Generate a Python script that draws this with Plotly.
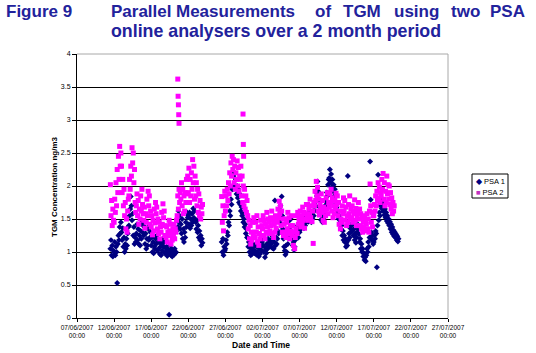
import pandas as pd
import plotly.graph_objects as go

# ---------------- data (2-hourly readings, estimated from the figure) ----------------
seg1_start = "2007-06-11 12:00"
psa1_seg1 = [
    1.05, 1.18, 0.95, 1.10, 0.93, 1.02,
    1.00, 1.15, 0.95, 1.08, 1.00, 0.53, 1.12, 1.25, 1.18, 1.38, 1.28, 1.45,
    1.30, 1.18, 1.36, 1.08, 1.22, 1.00, 1.12, 1.05, 1.20, 1.10, 1.28, 1.38,
    1.40, 1.55, 1.65, 1.84, 1.70, 1.48, 1.58, 1.25, 1.38, 1.12, 1.22, 1.15,
    1.28, 1.42, 1.18, 1.35, 1.12, 1.25, 1.10, 1.32, 1.20, 1.45, 1.30, 1.40,
    1.25, 1.38, 1.12, 1.28, 1.05, 1.20, 1.10, 1.35, 1.18, 1.40, 1.22, 1.30,
    1.10, 1.22, 1.00, 1.15, 0.98, 1.08, 1.05, 1.20, 1.12, 1.25, 1.02, 1.15,
    1.05, 1.15, 0.97, 1.08, 0.95, 1.12, 1.02, 1.20, 1.08, 1.15, 0.98, 1.06,
    1.00, 1.08, 0.94, 1.04, 0.97, 0.05, 1.02, 1.10, 0.95, 1.05, 0.93, 1.00,
    1.02, 0.96, 1.05, 0.98, 1.00, 1.32, 1.48, 1.38, 1.62, 1.45, 1.55, 1.35,
    1.42, 1.28, 1.50, 1.20, 1.35, 1.15, 1.30, 1.22, 1.45, 1.38, 1.60, 1.52,
    1.55, 1.42, 1.60, 1.36, 1.50, 1.40, 1.58, 1.45, 1.66, 1.52, 1.62, 1.48,
    1.45, 1.35, 1.48, 1.30, 1.40, 1.22, 1.32, 1.18, 1.25, 1.10, 1.20, 1.14,
]
psa2_seg1 = [
    2.02, 1.55, 1.78, 1.40, 1.65, 1.48,
    1.45, 1.80, 1.60, 2.05, 1.70, 2.25, 1.90, 2.45, 2.10, 2.60, 2.30, 2.50,
    2.30, 1.90, 2.10, 1.70, 1.95, 1.55, 1.75, 1.35, 1.50, 1.30, 1.62, 1.80,
    1.85, 2.10, 1.95, 2.30, 2.15, 2.58, 2.35, 2.50, 2.05, 2.25, 1.75, 1.60,
    1.70, 1.88, 1.55, 1.78, 1.42, 1.65, 1.50, 1.85, 1.62, 1.95, 1.72, 1.58,
    1.48, 1.68, 1.36, 1.58, 1.45, 1.80, 1.55, 1.92, 1.70, 1.85, 1.42, 1.62,
    1.38, 1.55, 1.26, 1.48, 1.32, 1.65, 1.44, 1.75, 1.58, 1.68, 1.35, 1.50,
    1.28, 1.45, 1.20, 1.38, 1.30, 1.60, 1.42, 1.73, 1.52, 1.62, 1.25, 1.40,
    1.22, 1.38, 1.15, 1.30, 1.25, 1.48, 1.32, 1.42, 1.12, 1.28, 1.18, 1.35,
    1.25, 1.42, 1.20, 1.35, 1.30, 1.48, 1.55, 1.85, 1.65, 1.95, 1.75, 1.90,
    1.80, 2.05, 1.70, 1.95, 1.58, 1.85, 1.62, 1.90, 1.75, 2.10, 1.88, 2.15,
    1.90, 2.27, 1.75, 2.10, 1.85, 2.20, 1.95, 2.40, 2.05, 2.30, 1.80, 2.15,
    1.85, 2.05, 1.70, 1.95, 1.60, 1.88, 1.55, 1.78, 1.50, 1.68, 1.58, 1.72,
]

seg2_start = "2007-06-26 12:00"
psa1_seg2 = [
    1.15, 1.00, 1.20, 0.95, 1.08, 1.02,
    1.05, 1.18, 1.12, 1.30, 1.25, 1.45, 1.40, 1.62, 1.55, 1.80, 1.72, 1.95,
    1.95, 2.15, 2.02, 2.20, 1.98, 2.10, 1.88, 2.00, 1.82, 1.95, 1.75, 1.88,
    1.72, 1.62, 1.68, 1.55, 1.58, 1.45, 1.50, 1.38, 1.42, 1.28, 1.35, 1.22,
    1.22, 1.08, 1.15, 1.00, 1.10, 0.95, 1.05, 0.97, 1.12, 1.02, 1.08, 0.98,
    1.02, 1.12, 0.96, 1.08, 1.00, 1.15, 0.93, 1.05, 0.97, 1.10, 1.03, 1.14,
    1.10, 1.18, 1.00, 1.08, 0.92, 1.02, 0.98, 1.12, 1.05, 1.20, 1.08, 1.15,
    1.08, 1.18, 1.12, 1.25, 1.06, 1.20, 1.05, 1.15, 1.78, 1.10, 1.22, 1.12,
    1.20, 1.32, 1.28, 1.50, 1.45, 1.70, 1.62, 1.84, 1.55, 1.35, 1.20, 1.08,
    1.02, 0.96, 1.10, 1.00, 1.22, 1.12, 1.35, 1.25, 1.48, 1.38, 1.52, 1.28,
    1.20, 1.10, 1.15, 1.03, 1.08, 1.18, 1.25, 1.35, 1.28, 1.40, 1.22, 1.32,
    1.30, 1.40, 1.35, 1.45, 1.38, 1.50, 1.42, 1.36, 1.48, 1.40, 1.55, 1.46,
    1.50, 1.58, 1.46, 1.55, 1.48, 1.60, 1.52, 1.45, 1.56, 1.50, 1.62, 1.55,
    1.62, 1.75, 1.70, 1.90, 1.85, 2.07, 1.92, 1.78, 1.68, 1.58, 1.62, 1.48,
    1.50, 1.45, 1.58, 1.52, 1.68, 1.60, 1.78, 1.72, 1.90, 1.85, 2.02, 2.10,
    2.12, 2.25, 2.05, 2.18, 1.98, 2.10, 1.92, 2.02, 1.85, 1.95, 1.75, 1.68,
    1.68, 1.58, 1.62, 1.50, 1.55, 1.42, 1.48, 1.35, 1.40, 1.25, 1.32, 1.18,
    1.25, 1.15, 1.20, 1.08, 1.14, 1.10, 2.15, 1.18, 1.28, 1.22, 1.36, 1.30,
    1.40, 1.32, 1.44, 1.25, 1.35, 1.18, 1.28, 1.14, 1.22, 1.30, 1.42, 1.35,
    1.27, 1.15, 1.20, 1.05, 1.12, 1.00, 1.05, 0.93, 0.98, 0.88, 0.92, 0.86,
    0.95, 1.05, 1.00, 1.15, 1.08, 1.22, 2.37, 1.79, 1.30, 1.18, 1.25, 1.12,
    1.15, 1.25, 1.20, 1.32, 1.28, 0.77, 1.40, 2.17, 1.48, 1.60, 1.55, 1.70,
    1.78, 1.66, 1.74, 1.62, 1.70, 1.56, 1.65, 1.52, 1.60, 1.47, 1.55, 1.44,
    1.50, 1.40, 1.46, 1.35, 1.42, 1.30, 1.38, 1.27, 1.33, 1.24, 1.30, 1.22,
    1.27, 1.18, 1.24, 1.16, 1.20,
]
psa2_seg2 = [
    1.84, 1.45, 1.70, 1.32, 1.55, 1.92,
    1.62, 1.85, 1.70, 1.95, 1.78, 2.05, 1.88, 2.20, 2.00, 2.35, 2.15, 2.45,
    2.25, 2.40, 2.05, 2.30, 1.95, 2.20, 2.10, 2.38, 2.00, 2.28, 1.92, 2.15,
    2.10, 2.30, 1.85, 2.15, 1.75, 2.00, 1.70, 1.95, 1.65, 1.85, 1.60, 1.78,
    1.55, 1.35, 1.48, 1.20, 1.40, 1.12, 1.30, 1.18, 1.45, 1.25, 1.52, 1.30,
    1.22, 1.45, 1.30, 1.55, 1.15, 1.38, 1.10, 1.28, 1.20, 1.48, 1.25, 1.40,
    1.35, 1.55, 1.25, 1.48, 1.20, 1.42, 1.30, 1.60, 1.38, 1.50, 1.28, 1.45,
    1.32, 1.52, 1.40, 1.62, 1.28, 1.48, 1.22, 1.42, 1.30, 1.55, 1.36, 1.50,
    1.45, 1.65, 1.52, 1.77, 1.58, 1.70, 1.40, 1.62, 1.30, 1.50, 1.25, 1.42,
    1.30, 1.50, 1.22, 1.45, 1.35, 1.60, 1.28, 1.52, 1.20, 1.40, 1.32, 1.55,
    1.25, 1.40, 1.10, 1.30, 1.05, 1.22, 1.35, 1.55, 1.28, 1.60, 1.42, 1.50,
    1.45, 1.62, 1.38, 1.55, 1.42, 1.68, 1.48, 1.60, 1.36, 1.58, 1.50, 1.72,
    1.55, 1.72, 1.48, 1.65, 1.58, 1.80, 1.52, 1.70, 1.46, 1.62, 1.13, 1.75,
    1.70, 1.92, 1.78, 2.07, 1.85, 1.98, 1.62, 1.80, 1.56, 1.72, 1.65, 1.88,
    1.60, 1.78, 1.48, 1.68, 1.45, 1.62, 1.55, 1.82, 1.65, 1.90, 1.58, 1.75,
    1.68, 1.88, 1.75, 1.95, 1.62, 1.82, 1.52, 1.70, 1.58, 1.78, 1.65, 1.89,
    1.72, 1.85, 1.55, 1.75, 1.42, 1.62, 1.35, 1.50, 1.45, 1.70, 1.58, 1.82,
    1.62, 1.78, 1.48, 1.68, 1.40, 1.55, 1.45, 1.72, 1.58, 1.85, 1.50, 1.65,
    1.52, 1.70, 1.45, 1.62, 1.58, 1.79, 1.48, 1.66, 1.40, 1.55, 1.60, 1.75,
    1.50, 1.65, 1.40, 1.58, 1.35, 1.52, 1.30, 1.45, 1.38, 1.55, 1.32, 1.48,
    1.42, 1.58, 1.35, 1.50, 1.30, 1.62, 2.03, 1.70, 1.45, 1.60, 1.38, 1.55,
    1.55, 1.72, 1.62, 1.85, 1.70, 1.92, 1.78, 2.05, 1.82, 1.98, 1.75, 1.90,
    1.85, 2.10, 1.95, 2.19, 1.80, 2.05, 1.70, 1.92, 1.75, 2.15, 1.88, 2.02,
    1.80, 2.00, 1.72, 1.90, 1.65, 1.82, 1.58, 1.75, 1.62, 1.70, None, None,
]

# isolated high PSA 2 readings
psa2_extra_times = ["2007-06-20 14:00", "2007-06-20 15:00", "2007-06-20 16:00",
                    "2007-06-20 17:00", "2007-06-20 18:00",
                    "2007-06-29 09:00", "2007-06-29 10:00", "2007-06-29 11:00"]
psa2_extra_vals = [3.62, 3.36, 3.23, 3.08, 2.95, 3.09, 2.63, 2.45]

x_tick_dates = ["2007-06-07", "2007-06-12", "2007-06-17", "2007-06-22", "2007-06-27",
                "2007-07-02", "2007-07-07", "2007-07-12", "2007-07-17", "2007-07-22",
                "2007-07-27"]
y_ticks = [0, 0.5, 1, 1.5, 2, 2.5, 3, 3.5, 4]

# ---------------- build series ----------------
t1 = list(pd.date_range(seg1_start, periods=len(psa1_seg1), freq="2h")) + \
     list(pd.date_range(seg2_start, periods=len(psa1_seg2), freq="2h"))
v1 = psa1_seg1 + psa1_seg2
t2 = list(pd.date_range(seg1_start, periods=len(psa2_seg1), freq="2h")) + \
     list(pd.date_range(seg2_start, periods=len(psa2_seg2), freq="2h")) + \
     list(pd.to_datetime(psa2_extra_times))
v2 = psa2_seg1 + psa2_seg2 + psa2_extra_vals

FONT = "Arial, 'Liberation Sans', sans-serif"
TITLE_BLUE = "#22229c"

fig = go.Figure()
fig.add_trace(go.Scatter(x=t1, y=v1, mode="markers", name="PSA 1",
                         marker=dict(symbol="diamond", size=4.6, color="#000080"),
                         showlegend=False))
fig.add_trace(go.Scatter(x=t2, y=v2, mode="markers", name="PSA 2",
                         marker=dict(symbol="square", size=5, color="#ff00ff"),
                         showlegend=False))

tickvals = pd.to_datetime(x_tick_dates)
ticktext = [d.strftime("%d/%m/%Y") + "<br>" + d.strftime("%H:%M") for d in tickvals]

fig.update_layout(
    width=536, height=353,
    margin=dict(l=77, r=88, t=54, b=35),
    paper_bgcolor="white", plot_bgcolor="white",
    font=dict(family=FONT, color="black"),
    xaxis=dict(range=[tickvals[0], tickvals[-1]], tickvals=tickvals, ticktext=ticktext,
               showgrid=False, zeroline=False, showline=True, linecolor="black",
               linewidth=1, ticks="outside", ticklen=3, tickcolor="black",
               tickfont=dict(size=6.5, family=FONT), tickangle=0),
    yaxis=dict(range=[0, 4], tickvals=y_ticks, ticktext=[f"{v:g}" for v in y_ticks],
               showgrid=True, gridcolor="black", gridwidth=1, zeroline=False,
               showline=True, linecolor="black", linewidth=1, ticks="outside",
               ticklen=4, tickcolor="black", tickfont=dict(size=7, family=FONT)),
)

# grey plot-area border (top and right)
fig.add_shape(type="line", xref="paper", yref="paper", x0=0, x1=1, y0=1, y1=1,
              line=dict(color="#a8a8a8", width=1), layer="above")
fig.add_shape(type="line", xref="paper", yref="paper", x0=1, x1=1, y0=0, y1=1,
              line=dict(color="#a8a8a8", width=1), layer="above")

def px_x(px):
    return (px - 77) / 371.0

def px_y(py):
    return (318 - py) / 264.0

# title
fig.add_annotation(text="<b>Figure 9</b>", xref="paper", yref="paper", x=px_x(4), y=px_y(11),
                   xanchor="left", yanchor="middle", showarrow=False,
                   font=dict(size=17, color=TITLE_BLUE, family=FONT))
words = ["Parallel", "Measurements", "of", "TGM", "using", "two", "PSA"]
word_x = [109, 174, 313, 341, 392, 449, 488]
for w, wx in zip(words, word_x):
    fig.add_annotation(text=f"<b>{w}</b>", xref="paper", yref="paper", x=px_x(wx), y=px_y(11),
                       xanchor="left", yanchor="middle", showarrow=False,
                       font=dict(size=17, color=TITLE_BLUE, family=FONT))
fig.add_annotation(text="<b>online analysers over a 2 month period</b>", xref="paper", yref="paper",
                   x=px_x(109), y=px_y(31), xanchor="left", yanchor="middle", showarrow=False,
                   font=dict(size=17.8, color=TITLE_BLUE, family=FONT))

# axis titles
fig.add_annotation(text="<b>TGM Concentration ng/m3</b>", xref="paper", yref="paper",
                   x=px_x(54), y=px_y(187), textangle=-90, showarrow=False,
                   xanchor="center", yanchor="middle", font=dict(size=8, family=FONT))
fig.add_annotation(text="<b>Date and Time</b>", xref="paper", yref="paper",
                   x=px_x(261), y=px_y(344.5), showarrow=False,
                   xanchor="center", yanchor="middle", font=dict(size=8.5, family=FONT))

# legend (drawn as box + text)
fig.add_shape(type="rect", xref="paper", yref="paper", x0=px_x(472), x1=px_x(508),
              y0=px_y(198), y1=px_y(174), line=dict(color="black", width=1),
              fillcolor="white", layer="above")
fig.add_annotation(text='<span style="color:#000080">\u25c6</span> PSA 1', xref="paper", yref="paper",
                   x=px_x(474), y=px_y(181), xanchor="left", yanchor="middle", showarrow=False,
                   font=dict(size=7.5, family=FONT))
fig.add_annotation(text='<span style="color:#c030c0">\u25a0</span> PSA 2', xref="paper", yref="paper",
                   x=px_x(474), y=px_y(192), xanchor="left", yanchor="middle", showarrow=False,
                   font=dict(size=7.5, family=FONT))

fig.write_html("out.html")
